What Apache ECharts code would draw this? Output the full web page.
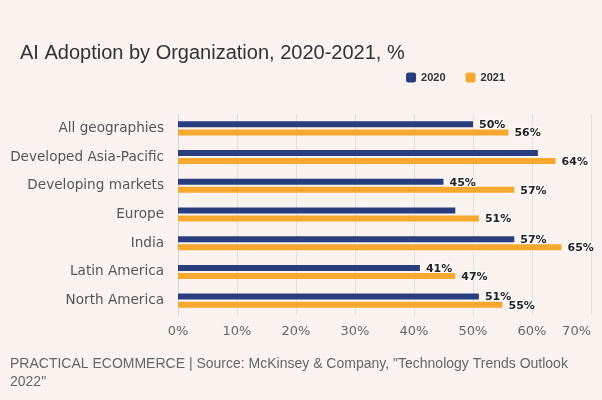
<!DOCTYPE html>
<html><head><meta charset="utf-8">
<script src="https://cdn.jsdelivr.net/npm/echarts@6/dist/echarts.min.js"></script>
<style>html,body{margin:0;padding:0;background:#faf3f0;}#c{width:602px;height:400px;}</style>
</head><body><div id="c"></div>
<script>
const categories = ["All geographies","Developed Asia-Pacific","Developing markets","Europe","India","Latin America","North America"];
const values2020 = [50,61,45,47,57,41,51];
const values2021 = [56,64,57,51,65,47,55];
const show2020 = [true,false,true,false,true,true,true];
const show2021 = [true,true,true,true,true,true,true];
const xTicks = [0,10,20,30,40,50,60,70];

const chart = echarts.init(document.getElementById('c'));
const lbl = {show:true, position:'right', distance:6, formatter:'{c}%', color:'#222', fontFamily:'DejaVu Sans', fontWeight:'bold', fontSize:11, textBorderColor:'#fff', textBorderWidth:2, offset:[0,1]};
function mk(vals, shows){ return vals.map((v,i)=>({value:v, label:{show:shows[i]}})); }
chart.setOption({
  backgroundColor:'#faf3f0',
  animation:false,
  title:[{text:'AI Adoption by Organization, 2020-2021, %', left:15, top:38, textStyle:{fontFamily:'Liberation Sans', fontWeight:'normal', fontSize:20, color:'#333'}},
         {text:'PRACTICAL ECOMMERCE | Source: McKinsey & Company, "Technology Trends Outlook\n2022"', left:5, top:350, textStyle:{fontFamily:'Liberation Sans', fontWeight:'normal', fontSize:14, color:'#666', lineHeight:18}}],
  legend:{right:92, top:67, itemWidth:10, itemHeight:10, itemGap:20, icon:'roundRect', textStyle:{fontFamily:'Liberation Sans', fontWeight:'bold', fontSize:11, color:'#333'}, data:['2020','2021']},
  grid:{left:178, right:11, top:114, bottom:85, containLabel:false},
  xAxis:{type:'value', min:0, max:70, interval:10,
    axisLine:{show:false}, axisTick:{show:false},
    splitLine:{lineStyle:{color:'#e4e0de', width:1}},
    axisLabel:{formatter:'{value}%', fontFamily:'DejaVu Sans', fontSize:13, color:'#666', margin:10, alignMaxLabel:'right'}},
  yAxis:{type:'category', inverse:true, data:categories,
    axisLine:{lineStyle:{color:'#ccd6eb'}}, axisTick:{show:false},
    axisLabel:{fontFamily:'DejaVu Sans', fontSize:13.6, color:'#555', margin:14}},
  series:[
    {name:'2020', type:'bar', data:mk(values2020, show2020), barWidth:6, barGap:'35%', itemStyle:{color:'#2a3e7f'}, label:lbl},
    {name:'2021', type:'bar', data:mk(values2021, show2021), barWidth:6, itemStyle:{color:'#f6a92e'}, label:lbl}
  ]
});
</script></body></html>
